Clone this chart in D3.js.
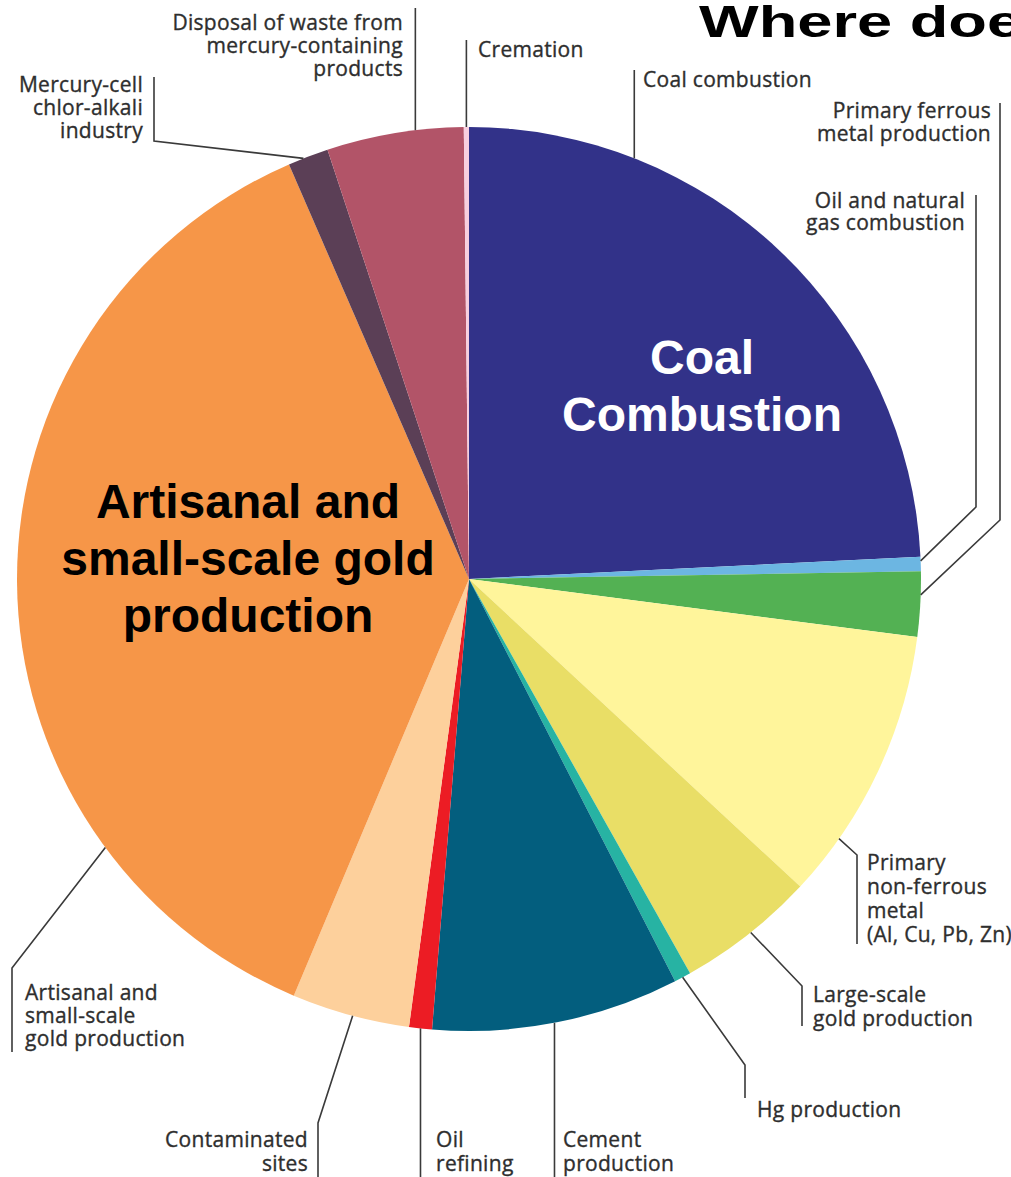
<!DOCTYPE html>
<html>
<head>
<meta charset="utf-8">
<script src="https://cdn.jsdelivr.net/npm/d3@7"></script>
<style>
  html, body { margin: 0; padding: 0; background: #fff; overflow: hidden; }
  svg { display: block; }
  .lbl { font-family: "Open Sans", "Noto Sans", sans-serif; font-size: 21px; fill: #2e2e2e; stroke: #2e2e2e; stroke-width: 0.35px; letter-spacing: 0.3px; }
  .big { font-family: "Liberation Sans", Arial, sans-serif; font-weight: bold; font-size: 48px; }
  .title { font-family: "Liberation Sans", Arial, sans-serif; font-weight: bold; font-size: 45px; }
</style>
</head>
<body>
<script>
// ---- data (global anthropogenic mercury emissions, tonnes) ----
const categories = [
  "Coal combustion",
  "Oil and natural gas combustion",
  "Primary ferrous metal production",
  "Primary non-ferrous metal (Al, Cu, Pb, Zn)",
  "Large-scale gold production",
  "Hg production",
  "Cement production",
  "Oil refining",
  "Contaminated sites",
  "Artisanal and small-scale gold production",
  "Mercury-cell chlor-alkali industry",
  "Disposal of waste from mercury-containing products",
  "Cremation"
];
const values = [474, 9.9, 45.5, 193, 97, 11.7, 173, 16, 82.5, 727, 28.4, 95.6, 3.6];
const colors = ["#323289", "#6cb6e2", "#53b153", "#fff59b", "#e9de66", "#27b3a3",
                "#035e7e", "#ec1c24", "#fdd09c", "#f69648", "#5b3f56", "#b25468", "#f8cfdf"];

// label text lines for each slice
const labelLines = [
  ["Coal combustion"],
  ["Oil and natural", "gas combustion"],
  ["Primary ferrous", "metal production"],
  ["Primary", "non-ferrous", "metal", "(Al, Cu, Pb, Zn)"],
  ["Large-scale", "gold production"],
  ["Hg production"],
  ["Cement", "production"],
  ["Oil", "refining"],
  ["Contaminated", "sites"],
  ["Artisanal and", "small-scale", "gold production"],
  ["Mercury-cell", "chlor-alkali", "industry"],
  ["Disposal of waste from", "mercury-containing", "products"],
  ["Cremation"]
];
const titleText = "Where does mercury come from?";

// ---- layout ----
const W = 1011, H = 1177;
const cx = 469, cy = 579, R = 452;

// leader layout: t = fraction within slice for anchor, elbow (optional), end y, text pos/anchor
const leaders = [
  { t: 0.246, elbow: null,        endY: 70,   tx: 643, ty: 87,   anchor: "start", lh: 23 },
  { t: 0.28,  elbow: [976, 507],  endY: 195,  tx: 965, ty: 208,  anchor: "end",   lh: 22 },
  { t: 0.36,  elbow: [1000, 520], endY: 103,  tx: 991, ty: 118,  anchor: "end",   lh: 23 },
  { t: 0.78,  elbow: [857, 855],  endY: 944,  tx: 867, ty: 870,  anchor: "start", lh: 24 },
  { t: 0.48,  elbow: [802, 986],  endY: 1026, tx: 813, ty: 1002, anchor: "start", lh: 24 },
  { t: 0.5,   elbow: [745, 1065], endY: 1098, tx: 757, ty: 1117, anchor: "start", lh: 24 },
  { t: 0.51,  elbow: null,        endY: 1177, tx: 563, ty: 1147, anchor: "start", lh: 24 },
  { t: 0.5,   elbow: null,        endY: 1177, tx: 436, ty: 1147, anchor: "start", lh: 24 },
  { t: 0.48,  elbow: [318, 1123], endY: 1177, tx: 308, ty: 1147, anchor: "end",   lh: 24 },
  { t: 0.23,  elbow: [12, 968],   endY: 1052, tx: 25,  ty: 1000, anchor: "start", lh: 23 },
  { t: 0.38,  elbow: [154, 141],  endY: 77,   tx: 143, ty: 92,   anchor: "end",   lh: 23 },
  { t: 0.65,  elbow: null,        endY: 8,    tx: 403, ty: 30,   anchor: "end",   lh: 23 },
  { t: 0.5,   elbow: null,        endY: 40,   tx: 478, ty: 57,   anchor: "start", lh: 23 }
];

const svg = d3.select("body").append("svg").attr("width", W).attr("height", H);

const pie = d3.pie().sort(null).value(d => d)(values);
const arc = d3.arc().innerRadius(0).outerRadius(R);

const g = svg.append("g").attr("transform", `translate(${cx},${cy})`);
g.selectAll("path.slice").data(pie).join("path")
  .attr("class", "slice")
  .attr("d", arc)
  .attr("fill", (d, i) => colors[i]);

// leader lines & labels
pie.forEach((d, i) => {
  const L = leaders[i];
  const a = d.startAngle + (d.endAngle - d.startAngle) * L.t;
  const ax = cx + R * Math.sin(a), ay = cy - R * Math.cos(a);
  const pts = [[ax, ay]];
  if (L.elbow) { pts.push(L.elbow); pts.push([L.elbow[0], L.endY]); }
  else pts.push([ax, L.endY]);
  svg.append("path")
    .attr("d", d3.line()(pts))
    .attr("fill", "none").attr("stroke", "#3a3a3a").attr("stroke-width", 1.6);

  const txt = svg.append("text").attr("class", "lbl")
    .attr("text-anchor", L.anchor)
    .attr("x", L.tx).attr("y", L.ty);
  labelLines[i].forEach((s, k) => {
    txt.append("tspan").attr("x", L.tx).attr("y", L.ty + k * L.lh).text(s);
  });
});

// big in-slice labels
const bigLabels = [
  { lines: ["Coal", "Combustion"], x: 702, y: 374, fill: "#fff", lh: 57 },
  { lines: ["Artisanal and", "small-scale gold", "production"], x: 248, y: 518, fill: "#000", lh: 57 }
];
bigLabels.forEach(b => {
  const t = svg.append("text").attr("class", "big").attr("text-anchor", "middle").attr("fill", b.fill);
  b.lines.forEach((s, k) => t.append("tspan").attr("x", b.x).attr("y", b.y + k * b.lh).text(s));
});

// title (horizontally stretched and clipped at right edge, as in reference)
const probe = svg.append("text").attr("class", "title").text("Where do");
const probeW = probe.node().getComputedTextLength();
probe.remove();
const sx = 288 / probeW;
svg.append("text").attr("class", "title")
  .attr("transform", `translate(699,37) scale(${sx},1)`)
  .attr("fill", "#000")
  .text(titleText);
</script>
</body>
</html>
